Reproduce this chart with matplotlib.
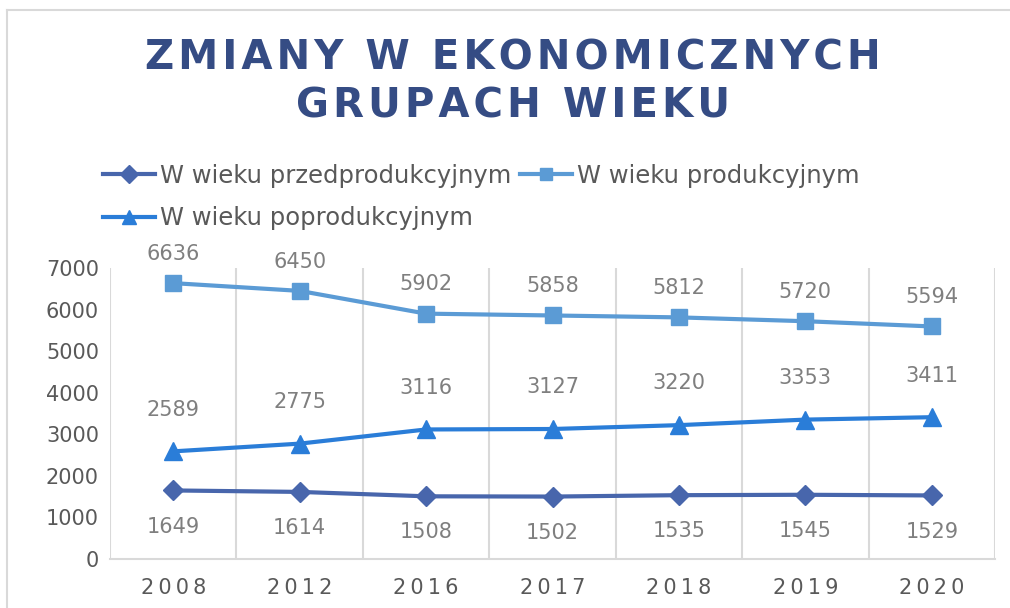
import numpy as np
import matplotlib
matplotlib.use("Agg")
import matplotlib.pyplot as plt
from matplotlib.lines import Line2D

# dane
lata = ["2008", "2012", "2016", "2017", "2018", "2019", "2020"]
przedprod = [1649, 1614, 1508, 1502, 1535, 1545, 1529]
prod = [6636, 6450, 5902, 5858, 5812, 5720, 5594]
poprod = [2589, 2775, 3116, 3127, 3220, 3353, 3411]
nazwy = ["W wieku przedprodukcyjnym", "W wieku produkcyjnym", "W wieku poprodukcyjnym"]
tytul = ["ZMIANY W EKONOMICZNYCH", "GRUPACH WIEKU"]

c_przed = "#4866AC"
c_prod = "#5B9BD5"
c_popr = "#2A7DD8"
c_txt = "#595959"
c_lab = "#7F7F7F"
c_tyt = "#354C84"

plt.rcParams['font.family'] = ['DejaVu Sans']

fig = plt.figure(figsize=(10.1, 6.08), dpi=100)
ax = fig.add_axes([110/1010, 49/608, 885/1010, 291/608])

x = np.arange(len(lata))
ax.plot(x, przedprod, color=c_przed, lw=3, marker="D", ms=10, zorder=3)
ax.plot(x, prod, color=c_prod, lw=3, marker="s", ms=12, zorder=3)
ax.plot(x, poprod, color=c_popr, lw=3, marker="^", ms=13, zorder=3)

# etykiety danych
for i in x:
    ax.annotate(str(przedprod[i]), (i, przedprod[i]), xytext=(0, -26), textcoords="offset points",
                ha="center", va="center", fontsize=15, color=c_lab)
    ax.annotate(str(prod[i]), (i, prod[i]), xytext=(0, 21), textcoords="offset points",
                ha="center", va="center", fontsize=15, color=c_lab)
    ax.annotate(str(poprod[i]), (i, poprod[i]), xytext=(0, 30), textcoords="offset points",
                ha="center", va="center", fontsize=15, color=c_lab)

ax.set_xlim(-0.5, len(lata) - 0.5)
ax.set_ylim(0, 7000)
ax.set_yticks(np.arange(0, 7001, 1000))
ax.set_xticks(x)
ax.set_xticklabels(["\u2009".join(l) for l in lata])
ax.tick_params(axis="both", length=0, labelsize=15, colors=c_txt)
ax.tick_params(axis="x", pad=14)
ax.tick_params(axis="y", pad=8)

# pionowe linie siatki miedzy kategoriami
for b in np.arange(-0.5, len(lata), 1.0):
    ax.axvline(b, color="#D9D9D9", lw=1.5, zorder=1)
for s in ["top", "right", "left"]:
    ax.spines[s].set_visible(False)
ax.spines["bottom"].set_color("#D9D9D9")
ax.spines["bottom"].set_linewidth(1.5)

# legenda (kolejnosc kolumnami: przed, popr | prod)
uchwyty = [
    Line2D([0], [0], color=c_przed, lw=3, marker="D", ms=9),
    Line2D([0], [0], color=c_popr, lw=3, marker="^", ms=10),
    Line2D([0], [0], color=c_prod, lw=3, marker="s", ms=9),
]
etykiety = [nazwy[0], nazwy[2], nazwy[1]]
leg = fig.legend(uchwyty, etykiety, ncol=2, loc="upper left", bbox_to_anchor=(103/1010, 1 - 164/608),
                 frameon=False, fontsize=17.5, handlelength=2.15, handletextpad=0.2,
                 columnspacing=0.35, labelspacing=0.75, borderaxespad=0, borderpad=0)
for t in leg.get_texts():
    t.set_color(c_txt)

# tytul
fig.text(513/1010, 1 - 58/608, "\u200a".join(tytul[0]), ha="center", va="center",
         fontsize=29, fontweight="bold", color=c_tyt)
fig.text(513/1010, 1 - 106/608, "\u200a".join(tytul[1]), ha="center", va="center",
         fontsize=29, fontweight="bold", color=c_tyt)

# ramka wykresu
fig.add_artist(Line2D([7/1010, 1], [1 - 10/608, 1 - 10/608], transform=fig.transFigure,
                      color="#D9D9D9", lw=1.5))
fig.add_artist(Line2D([7/1010, 7/1010], [0, 1 - 10/608], transform=fig.transFigure,
                      color="#D9D9D9", lw=1.5))

fig.savefig("out.png", dpi=100)
